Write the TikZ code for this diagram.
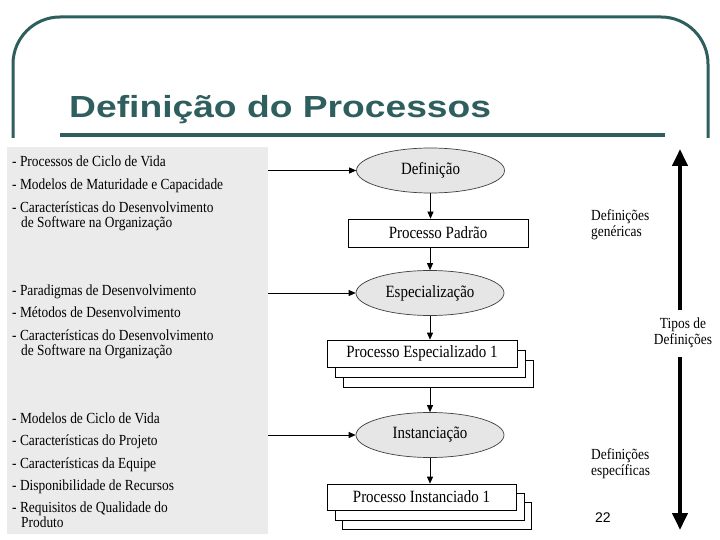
\documentclass[tikz,border=0pt]{standalone}
\usepackage{fontspec}
\setmainfont[FakeStretch=0.87]{Liberation Serif}
\newfontfamily\titlefont{Liberation Sans}
\usetikzlibrary{shapes.geometric,arrows.meta}
\definecolor{slideteal}{RGB}{46,94,94}
\definecolor{panelgray}{RGB}{235,235,235}
\definecolor{ellgray}{RGB}{230,230,230}
\tikzset{
  frameline/.style={draw=slideteal, line width=3pt},
  panelbox/.style={rectangle, fill=panelgray, draw=none, inner sep=0pt, minimum width=261pt, minimum height=386pt},
  sidetext/.style={anchor=base west, inner sep=0pt, font=\fontsize{15.4}{16}\selectfont},
  ell/.style={ellipse, draw=black!75, fill=ellgray, line width=0.7pt, minimum width=148pt, minimum height=45pt, inner sep=0pt, font=\fontsize{17.2}{18}\selectfont},
  procbox/.style={rectangle, draw=black, fill=white, line width=0.7pt, inner sep=0pt, font=\fontsize{17.2}{18}\selectfont},
  flow/.style={-{Triangle[length=7pt,width=6pt]}, line width=0.7pt},
  bigarrow/.style={-{Triangle[length=17pt,width=15pt]}, line width=4pt},
  rlabel/.style={inner sep=0pt, align=left, anchor=north west, font=\fontsize{15.4}{16.5}\selectfont},
}
\begin{document}
\begin{tikzpicture}[x=1pt,y=-1pt]
\useasboundingbox (0,0) rectangle (720,540);
\fill[white] (0,0) rectangle (720,540);
% slide frame
\draw[frameline, rounded corners=47pt] (13,138) -- (13,17) -- (708,17) -- (708,138);
\node[anchor=base west, inner sep=0pt, text=slideteal, xscale=1.22, font=\titlefont\bfseries\fontsize{30.5}{32}\selectfont] (title) at (69,118) {Definição do Processos};
\draw[slideteal, line width=3.5pt] (60,135) -- (665,135);
% left panel
\node[panelbox] (panel) at (137.5,340.5) {};
\node[sidetext] (l1) at (12,167) {- Processos de Ciclo de Vida};
\node[sidetext] (l2) at (12,189.5) {- Modelos de Maturidade e Capacidade};
\node[sidetext] (l3) at (12,212) {- Características do Desenvolvimento};
\node[sidetext] (l4) at (21,227) {de Software na Organização};
\node[sidetext] (l5) at (12,295) {- Paradigmas de Desenvolvimento};
\node[sidetext] (l6) at (12,317.5) {- Métodos de Desenvolvimento};
\node[sidetext] (l7) at (12,340) {- Características do Desenvolvimento};
\node[sidetext] (l8) at (21,355) {de Software na Organização};
\node[sidetext] (l9) at (12,423) {- Modelos de Ciclo de Vida};
\node[sidetext] (l10) at (12,445.5) {- Características do Projeto};
\node[sidetext] (l11) at (12,468) {- Características da Equipe};
\node[sidetext] (l12) at (12,490) {- Disponibilidade de Recursos};
\node[sidetext] (l13) at (12,512) {- Requisitos de Qualidade do};
\node[sidetext] (l14) at (21,527) {Produto};
% flow
\node[ell] (e1) at (430.5,170.5) {Definição};
\node[procbox, minimum width=180pt, minimum height=28pt] (padrao) at (438,233) {Processo Padrão};
\node[ell] (e2) at (430,293) {Especialização};
\node[procbox, minimum width=190pt, minimum height=27pt] (s1c) at (438,373.5) {};
\node[procbox, minimum width=190pt, minimum height=27pt] (s1b) at (430.5,363.5) {};
\node[procbox, minimum width=190pt, minimum height=27pt] (s1) at (422,353.5) {Processo Especializado 1};
\node[ell] (e3) at (430,435) {Instanciação};
\node[procbox, minimum width=189pt, minimum height=27pt] (s2c) at (437,515.5) {};
\node[procbox, minimum width=189pt, minimum height=27pt] (s2b) at (430,506.5) {};
\node[procbox, minimum width=189pt, minimum height=26pt] (s2) at (421.5,497) {Processo Instanciado 1};
% connectors from panel
\draw[flow] (panel.east |- e1) -- (e1);
\draw[flow] (panel.east |- e2) -- (e2);
\draw[flow] (panel.east |- e3) -- (e3);
% vertical flow
\draw[flow] (e1.south) -- (e1.south |- padrao.north);
\draw[flow] (e2.north |- padrao.south) -- (e2.north);
\draw[flow] (e2.south) -- (e2.south |- s1.north);
\draw[flow] (e3.north |- s1c.south) -- (e3.north);
\draw[flow] (e3.south) -- (e3.south |- s2.north);
% right side
\node[inner sep=0pt, align=center, font=\fontsize{15.4}{16.5}\selectfont] (tipos) at (683,333) {Tipos de\\Definições};
\coordinate (uptip) at (680,149);
\coordinate (downtip) at (680,530);
\draw[bigarrow] (680,310) -- (uptip);
\draw[bigarrow] (680,357) -- (downtip);
\node[rlabel] (gen) at (591,209) {Definições\\genéricas};
\node[rlabel] (esp) at (591,448) {Definições\\específicas};
\node[inner sep=0pt, anchor=base west, font=\titlefont\fontsize{14}{16}\selectfont] (pg) at (595,522) {22};
\end{tikzpicture}
\end{document}
